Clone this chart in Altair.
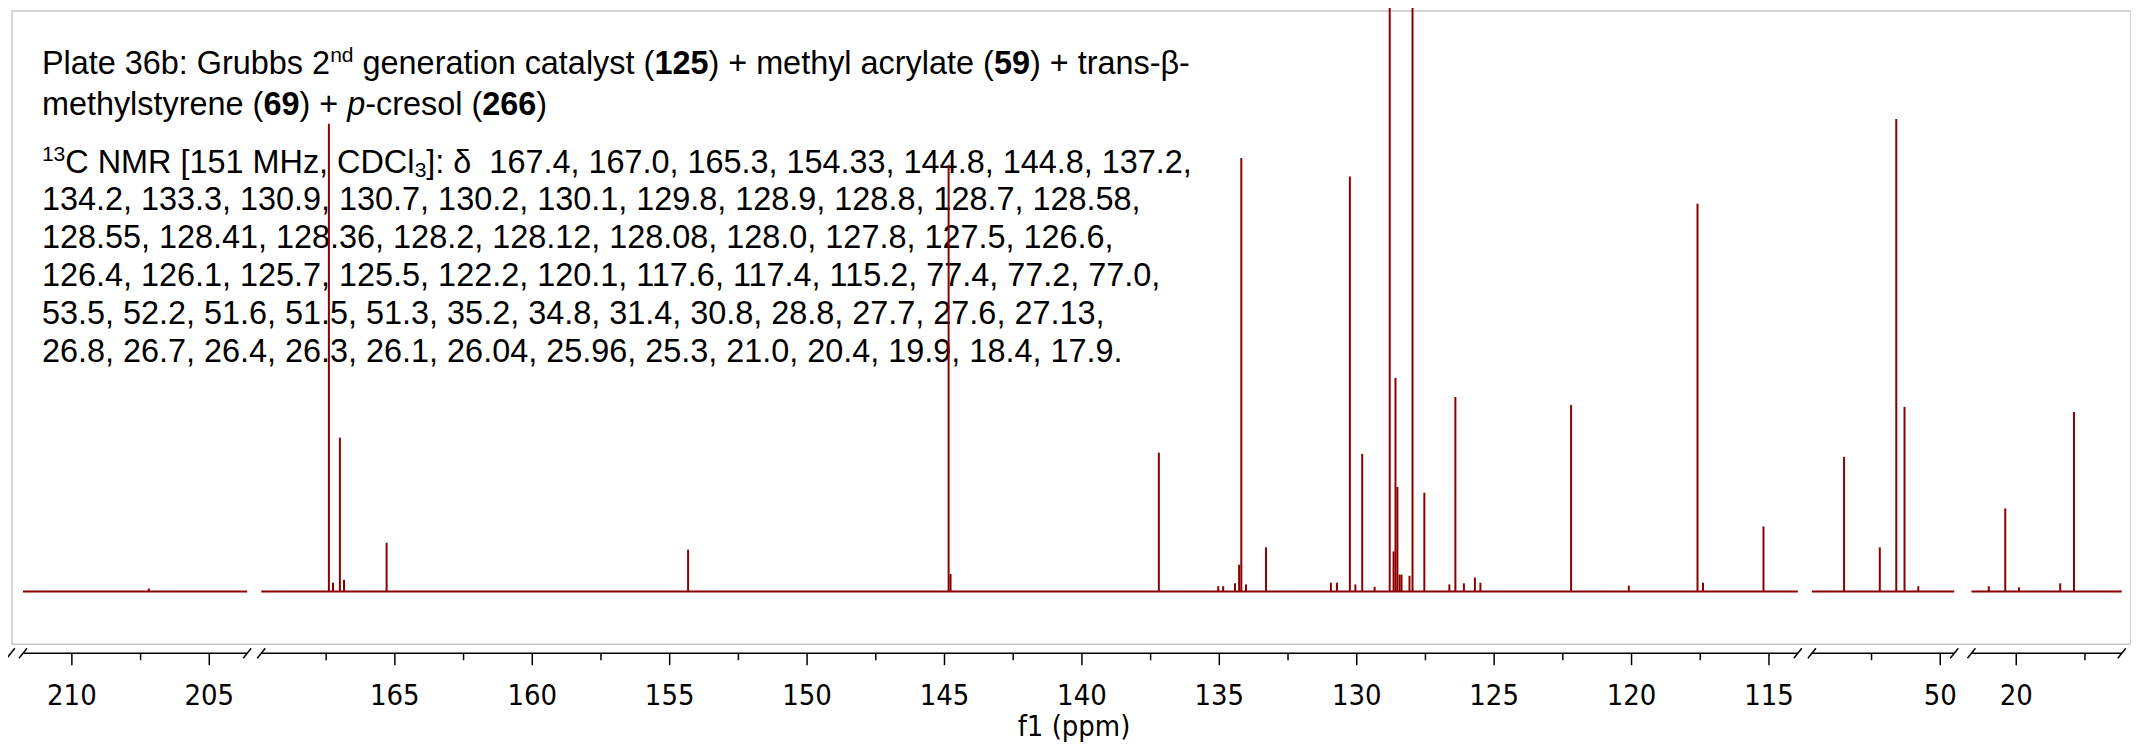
import altair as alt
import pandas as pd

# ---------------- data ----------------
# broken ppm axis: four pieces, left to right
SEG_START = [211.78, 169.86, 54.67, 21.63]
SEG_END = [203.62, 113.95, 49.49, 16.16]

# peak positions (ppm) and heights (relative intensity, 100 = top of frame)
PEAK_PPM = [207.2,
            167.4, 167.25, 167.0, 166.85, 165.3, 154.33, 144.85, 144.78,
            137.2, 135.04, 134.86, 134.43, 134.28, 134.2, 134.03, 133.3,
            130.94, 130.72, 130.25, 130.05, 129.8, 129.35, 128.8, 128.66,
            128.59, 128.52, 128.44, 128.37, 128.08, 127.97, 127.54, 126.63,
            126.41, 126.1, 125.7, 125.5, 122.2, 120.1, 117.6, 117.4, 115.2,
            53.5, 52.2, 51.6, 51.3, 50.8,
            21.0, 20.4, 19.9, 18.4, 17.9]
PEAK_INT = [0.5,
            80.6, 1.5, 26.5, 2.0, 8.4, 7.2, 73.5, 3.0,
            23.9, 0.9, 0.9, 1.4, 4.6, 74.7, 1.2, 7.6,
            1.5, 1.5, 71.5, 1.2, 23.7, 0.8, 104.0, 6.9,
            36.8, 18.0, 2.9, 2.9, 2.7, 104.0, 17.0, 1.2,
            33.5, 1.4, 2.4, 1.5, 32.1, 1.0, 66.8, 1.5, 11.2,
            23.2, 7.6, 81.4, 31.8, 0.9,
            0.9, 14.3, 0.7, 1.4, 30.9]

MAJOR_TICKS = [210, 205, 165, 160, 155, 150, 145, 140, 135, 130, 125, 120, 115, 50, 20]
MINOR_TICKS = [207.5, 167.5, 162.5, 157.5, 152.5, 147.5, 142.5, 137.5, 132.5,
               127.5, 122.5, 117.5, 52.5, 17.5]
EXTRA_SLASH_PPM = [212.22]

AXIS_TITLE = "f1 (ppm)"

TEXT_LINES = [
    [("Plate 36b: Grubbs 2", "n"), ("nd", "sup"), (" generation catalyst (", "n"), ("125", "b"),
     (") + methyl acrylate (", "n"), ("59", "b"), (") + trans-\u03b2-", "n")],
    [("methylstyrene (", "n"), ("69", "b"), (") + ", "n"), ("p", "i"), ("-cresol (", "n"),
     ("266", "b"), (")", "n")],
    [("13", "sup"), ("C NMR [151 MHz, CDCl", "n"), ("3", "sub"),
     ("]: \u03b4\u00a0 167.4, 167.0, 165.3, 154.33, 144.8, 144.8, 137.2,", "n")],
    [("134.2, 133.3, 130.9, 130.7, 130.2, 130.1, 129.8, 128.9, 128.8, 128.7, 128.58,", "n")],
    [("128.55, 128.41, 128.36, 128.2, 128.12, 128.08, 128.0, 127.8, 127.5, 126.6,", "n")],
    [("126.4, 126.1, 125.7, 125.5, 122.2, 120.1, 117.6, 117.4, 115.2, 77.4, 77.2, 77.0,", "n")],
    [("53.5, 52.2, 51.6, 51.5, 51.3, 35.2, 34.8, 31.4, 30.8, 28.8, 27.7, 27.6, 27.13,", "n")],
    [("26.8, 26.7, 26.4, 26.3, 26.1, 26.04, 25.96, 25.3, 21.0, 20.4, 19.9, 18.4, 17.9.", "n")],
]

# ---------------- layout ----------------
W, H = 2125, 635
X0 = [11, 250, 1805, 1965]          # pixel start of each axis piece
K = 27.56                           # pixels per ppm
RED = "#8b0000"
AXIS_FONT = "DejaVu Sans Condensed, DejaVu Sans"
TEXT_FONT = "Liberation Sans, Arial"
FS = 32.5
LINE_Y = [63, 104, 162, 200, 238, 276, 314, 352]
TEXT_X = 30

XS = alt.Scale(domain=[0, W], nice=False, zero=False)
YS = alt.Scale(domain=[-9.1, 100], nice=False, zero=False)

SEG_EXPR = "datum.ppm > 190 ? 0 : (datum.ppm > 90 ? 1 : (datum.ppm > 35 ? 2 : 3))"


def pos_expr(field, seg="seg"):
    return f"{X0}[datum.{seg}] + ({SEG_START}[datum.{seg}] - datum.{field}) * {K}"


# Arial / Liberation Sans advance widths (1/1000 em)
AW = {' ': 278, '\u00a0': 278, '(': 333, ')': 333, '+': 584, ',': 278, '-': 333, '.': 278,
      ':': 278, '[': 278, ']': 278, 'C': 722, 'D': 722, 'G': 778, 'H': 722, 'I': 278,
      'M': 833, 'N': 722, 'P': 667, 'R': 722, 'a': 556, 'b': 556, 'c': 500, 'd': 556,
      'e': 556, 'g': 556, 'h': 556, 'i': 222, 'l': 222, 'm': 833, 'n': 556, 'o': 556,
      'p': 556, 'r': 333, 's': 500, 't': 278, 'u': 556, 'y': 500, 'z': 500,
      '\u03b2': 575, '\u03b4': 556}


def tw(s, size):
    return sum(AW.get(ch, 556) for ch in s) / 1000.0 * size


SUB_FS = FS * 0.65
rows = {"n": [], "b": [], "i": [], "sup": [], "sub": []}
for li, line in enumerate(TEXT_LINES):
    cur = TEXT_X
    base = LINE_Y[li]
    for txt, sty in line:
        size = SUB_FS if sty in ("sup", "sub") else FS
        lead = len(txt) - len(txt.lstrip(' '))
        x = cur + tw(txt[:lead], size)
        y = base
        if sty == "sup":
            y = base - 0.36 * FS
        elif sty == "sub":
            y = base + 0.14 * FS
        rows[sty].append({"x": x, "y": y, "t": txt.strip(' ')})
        cur += tw(txt, size)

layers = []
text_styles = {
    "n": dict(fontSize=FS),
    "b": dict(fontSize=FS, fontWeight="bold"),
    "i": dict(fontSize=FS, fontStyle="italic"),
    "sup": dict(fontSize=SUB_FS),
    "sub": dict(fontSize=SUB_FS),
}
for sty, kw in text_styles.items():
    df = pd.DataFrame(rows[sty])
    layers.append(
        alt.Chart(df).mark_text(align="left", baseline="alphabetic", font=TEXT_FONT,
                                color="black", **kw)
        .encode(x=alt.X("x:Q", scale=XS, axis=None),
                y=alt.Y("y:Q", scale=None, axis=None),
                text="t:N")
    )

seg_df = pd.DataFrame({"seg": [0, 1, 2, 3], "s": SEG_START, "e": SEG_END, "zero": 0.0})
peaks_df = pd.DataFrame({"ppm": PEAK_PPM, "inten": PEAK_INT})
major_df = pd.DataFrame({"ppm": MAJOR_TICKS})
minor_df = pd.DataFrame({"ppm": MINOR_TICKS})
slash_df = pd.DataFrame({"ppm": SEG_START + SEG_END + EXTRA_SLASH_PPM})

# spectrum baseline pieces
layers.append(
    alt.Chart(seg_df).mark_rule(color=RED, strokeWidth=2)
    .transform_calculate(xs=pos_expr("s"), xe=pos_expr("e"))
    .encode(x=alt.X("xs:Q", scale=XS, axis=None), x2="xe:Q",
            y=alt.Y("zero:Q", scale=YS, axis=None))
)
# peaks
layers.append(
    alt.Chart(peaks_df).mark_rule(color=RED, strokeWidth=2)
    .transform_calculate(seg=SEG_EXPR)
    .transform_calculate(pos=pos_expr("ppm"), zero="0")
    .encode(x=alt.X("pos:Q", scale=XS, axis=None),
            y=alt.Y("inten:Q", scale=YS, axis=None), y2="zero:Q")
)
# axis line pieces
AX_Y = H + 9
layers.append(
    alt.Chart(seg_df).mark_rule(color="black", strokeWidth=1.5)
    .transform_calculate(xs=pos_expr("s"), xe=pos_expr("e"))
    .encode(x=alt.X("xs:Q", scale=XS, axis=None), x2="xe:Q", y=alt.value(AX_Y))
)
# major ticks
layers.append(
    alt.Chart(major_df).mark_rule(color="black", strokeWidth=1.5)
    .transform_calculate(seg=SEG_EXPR)
    .transform_calculate(pos=pos_expr("ppm"))
    .encode(x=alt.X("pos:Q", scale=XS, axis=None), y=alt.value(AX_Y), y2=alt.value(AX_Y + 12))
)
# minor ticks
layers.append(
    alt.Chart(minor_df).mark_rule(color="black", strokeWidth=1.5)
    .transform_calculate(seg=SEG_EXPR)
    .transform_calculate(pos=pos_expr("ppm"))
    .encode(x=alt.X("pos:Q", scale=XS, axis=None), y=alt.value(AX_Y), y2=alt.value(AX_Y + 7))
)
# tick labels
layers.append(
    alt.Chart(major_df).mark_text(align="center", baseline="alphabetic", font=AXIS_FONT,
                                  fontSize=29, color="black")
    .transform_calculate(seg=SEG_EXPR)
    .transform_calculate(pos=pos_expr("ppm"))
    .encode(x=alt.X("pos:Q", scale=XS, axis=None), y=alt.value(AX_Y + 52),
            text=alt.Text("ppm:Q", format="d"))
)
# break marks
layers.append(
    alt.Chart(slash_df).mark_rule(color="black", strokeWidth=1.5)
    .transform_calculate(seg=SEG_EXPR)
    .transform_calculate(pos=pos_expr("ppm"))
    .transform_calculate(p1="datum.pos - 4", p2="datum.pos + 4")
    .encode(x=alt.X("p1:Q", scale=XS, axis=None), x2="p2:Q",
            y=alt.value(AX_Y + 5), y2=alt.value(AX_Y - 5))
)
# axis title
layers.append(
    alt.Chart(pd.DataFrame({"t": [AXIS_TITLE]})).mark_text(
        align="center", baseline="alphabetic", font=AXIS_FONT, fontSize=29, color="black")
    .encode(x=alt.value(1065), y=alt.value(AX_Y + 83), text="t:N")
)

chart = (
    alt.layer(*layers)
    .resolve_scale(y="independent")
    .properties(width=W, height=H,
                padding={"left": 4, "top": 2, "right": 0, "bottom": 102},
                autosize=alt.AutoSizeParams(type="none"))
    .configure_view(stroke="#c8c8c8", strokeWidth=1.5)
)

chart.save("out.html", embed_options={"renderer": "svg", "actions": False})
